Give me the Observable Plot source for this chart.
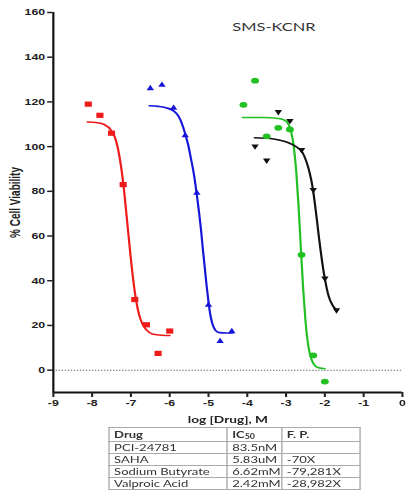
<!DOCTYPE html>
<html>
<head>
<meta charset="utf-8">
<script src="https://cdn.jsdelivr.net/npm/d3@7"></script>
<script src="https://cdn.jsdelivr.net/npm/@observablehq/plot@0.6"></script>
<style>
  html, body { margin: 0; padding: 0; background: #fff; }
  #wrap { width: 296px; transform: scale(1.3716, 1); transform-origin: 0 0; }
  table { border-collapse: collapse; margin-left: 78.7px; margin-top: -1px;
          font-family: Lato, "Open Sans", sans-serif; font-size: 9.5px; color: #333; }
  td { border: 1px solid #aaa; padding: 0 0 0 3.5px; height: 11px; line-height: 11px; white-space: nowrap; }
  tr.h td { font-weight: bold; height: 12.5px; }
  sub { font-size: 6.5px; vertical-align: -1px; line-height: 0; }
</style>
</head>
<body>
<div id="wrap"></div>
<script>
// ---- data ----
const title = "SMS-KCNR";
const xLabel = "log [Drug], M";
const yLabel = "% Cell Viability";
const xDomain = [-9, 0];
const yDomain = [-10, 160];
const xTicks = [-9, -8, -7, -6, -5, -4, -3, -2, -1, 0];
const yTicks = [0, 20, 40, 60, 80, 100, 120, 140, 160];

// PCI-24781 (red squares)
const pciX = [-8.1, -7.8, -7.5, -7.2, -6.9, -6.6, -6.3, -6.0];
const pciY = [119, 114, 106, 83, 31.6, 20.3, 7.5, 17.5];
const pciCurveX = [-8.12, -7.9, -7.7, -7.5, -7.4, -7.3, -7.2, -7.1, -7.0, -6.9, -6.8, -6.7, -6.6, -6.45, -6.2, -6.0];
const pciCurveY = [111, 110.8, 110, 107, 103.5, 96, 84, 67, 49.5, 35, 25.5, 20.5, 18, 16.2, 15.6, 15.5];

// SAHA (blue triangles)
const sahaX = [-6.5, -6.2, -5.9, -5.6, -5.3, -5.0, -4.7, -4.4];
const sahaY = [126.2, 127.7, 117.4, 105.1, 79.4, 29.3, 13.1, 17.5];
const sahaCurveX = [-6.52, -6.3, -6.1, -5.9, -5.8, -5.72, -5.65, -5.59, -5.52, -5.46, -5.38, -5.31, -5.25, -5.2, -5.15, -5.1, -5.05, -5.0, -4.95, -4.9, -4.82, -4.72, -4.55, -4.38];
const sahaCurveY = [118.3, 118, 117.4, 116, 114.3, 111.8, 108.5, 105, 100.5, 95.3, 88, 79.6, 71.5, 64, 55, 46.5, 38, 30.5, 24.5, 20.8, 17.8, 16.8, 16.6, 16.6];

// Sodium Butyrate (green circles)
const sbX = [-4.1, -3.8, -3.5, -3.2, -2.9, -2.6, -2.3, -2.0];
const sbY = [118.7, 129.5, 104.6, 108.4, 107.7, 51.6, 6.6, -5.1];
const sbCurveX = [-4.12, -3.6, -3.2, -3.06, -2.95, -2.87, -2.8, -2.74, -2.68, -2.62, -2.56, -2.5, -2.44, -2.38, -2.3, -2.2, -2.0];
const sbCurveY = [113, 113, 112.6, 112, 110.4, 106.7, 99.8, 89.4, 74, 55, 36.6, 22.1, 12.5, 6.8, 3.1, 1.3, 0.6];

// Valproic Acid (black inverted triangles)
const vpaX = [-3.8, -3.5, -3.2, -2.9, -2.6, -2.3, -2.0, -1.7];
const vpaY = [100, 93.7, 115.4, 111.4, 98.4, 80.5, 40.9, 26.7];
const vpaCurveX = [-3.81, -3.4, -3.1, -2.88, -2.7, -2.58, -2.48, -2.41, -2.35, -2.3, -2.25, -2.2, -2.15, -2.09, -2.04, -2.0, -1.95, -1.9, -1.8, -1.68];
const vpaCurveY = [104, 103.6, 102.6, 101.3, 99.5, 97.5, 93.5, 89.5, 85, 80, 73.5, 66.5, 59, 51, 45, 41, 36.5, 33, 29, 26.7];

// table
const tableDrugs = ["PCI-24781", "SAHA", "Sodium Butyrate", "Valproic Acid"];
const tableIC50 = ["83.5nM", "5.83uM", "6.62mM", "2.42mM"];
const tableFP = ["", "-70X", "-79,281X", "-28,982X"];

// ---- marker shapes ----
const symSquare = { draw(c) { c.rect(-2.6, -2.6, 5.2, 5.2); } };
const symTriUp = { draw(c) { c.moveTo(0, -3.2); c.lineTo(2.7, 2.1); c.lineTo(-2.7, 2.1); c.closePath(); } };
const symTriDown = { draw(c) { c.moveTo(0, 3.2); c.lineTo(2.7, -2.1); c.lineTo(-2.7, -2.1); c.closePath(); } };
const symCircle = { draw(c) { c.moveTo(2.9, 0); c.arc(0, 0, 2.9, 0, 2 * Math.PI); } };

const pts = (xs, ys) => xs.map((x, i) => ({x, y: ys[i]}));

const series = [
  {pts: pts(pciX, pciY), curve: pts(pciCurveX, pciCurveY), color: "#ee1b1b", sym: symSquare},
  {pts: pts(sahaX, sahaY), curve: pts(sahaCurveX, sahaCurveY), color: "#1616d8", sym: symTriUp},
  {pts: pts(sbX, sbY), curve: pts(sbCurveX, sbCurveY), color: "#22c022", sym: symCircle},
  {pts: pts(vpaX, vpaY), curve: pts(vpaCurveX, vpaCurveY), color: "#111111", sym: symTriDown}
];

const tickFont = "'Liberation Sans', Arial, sans-serif";

const marks = [
  Plot.ruleY([0], {stroke: "#666", strokeWidth: 1, strokeDasharray: "1,1.2"}),
  ...series.map(s => Plot.line(s.curve, {x: "x", y: "y", stroke: s.color, strokeWidth: 1.6, curve: "monotone-x"})),
  ...series.map(s => Plot.dot(s.pts, {x: "x", y: "y", fill: s.color, stroke: "none", symbol: s.sym})),
  Plot.ruleX([xDomain[0]], {stroke: "#111", strokeWidth: 1.6}),
  Plot.ruleY([yDomain[0]], {stroke: "#111", strokeWidth: 2}),
  Plot.axisY({ticks: yTicks, tickSize: 4, tickPadding: 2, tickFormat: d => String(d), label: null,
              fontSize: 9, fontWeight: "bold", fontFamily: tickFont, color: "#222", strokeWidth: 1.5}),
  Plot.axisX({ticks: xTicks, tickSize: 5, tickPadding: 2, tickFormat: d => String(d), label: null,
              fontSize: 9, fontWeight: "bold", fontFamily: tickFont, color: "#222", strokeWidth: 1.5}),
  Plot.text([xLabel], {frameAnchor: "bottom", dy: 27, textAnchor: "middle", lineAnchor: "middle",
                       fontSize: 10, fontWeight: "bold", fontFamily: "Lato, sans-serif", fill: "#222"}),
  Plot.text([yLabel], {frameAnchor: "left", dx: -27.4, rotate: -90, textAnchor: "middle", lineAnchor: "middle",
                       fontSize: 10, fontWeight: "bold", fontFamily: tickFont, fill: "#222"}),
  Plot.text([title], {frameAnchor: "top", dx: 33.6, dy: 15, textAnchor: "middle", lineAnchor: "middle",
                      fontSize: 12, fontFamily: "Lato, sans-serif", fill: "#333"})
];

const chart = Plot.plot({
  width: 296,
  height: 428,
  marginLeft: 38.4,
  marginRight: 3.1,
  marginTop: 12,
  marginBottom: 36,
  style: {background: "#fff", overflow: "visible"},
  x: {domain: xDomain},
  y: {domain: yDomain},
  marks
});

const wrap = document.getElementById("wrap");
wrap.appendChild(chart);

// table below the chart
const table = document.createElement("table");
const cols = [86.1, 37.9, 56.9];
const head = document.createElement("tr");
head.className = "h";
["Drug", "IC<sub>50</sub>", "F. P."].forEach((t, i) => {
  const td = document.createElement("td");
  td.innerHTML = t;
  td.style.width = (cols[i] - 4.5) + "px";
  head.appendChild(td);
});
table.appendChild(head);
tableDrugs.forEach((d, i) => {
  const tr = document.createElement("tr");
  [d, tableIC50[i], tableFP[i]].forEach(t => {
    const td = document.createElement("td");
    td.textContent = t;
    tr.appendChild(td);
  });
  table.appendChild(tr);
});
wrap.appendChild(table);
</script>
</body>
</html>
